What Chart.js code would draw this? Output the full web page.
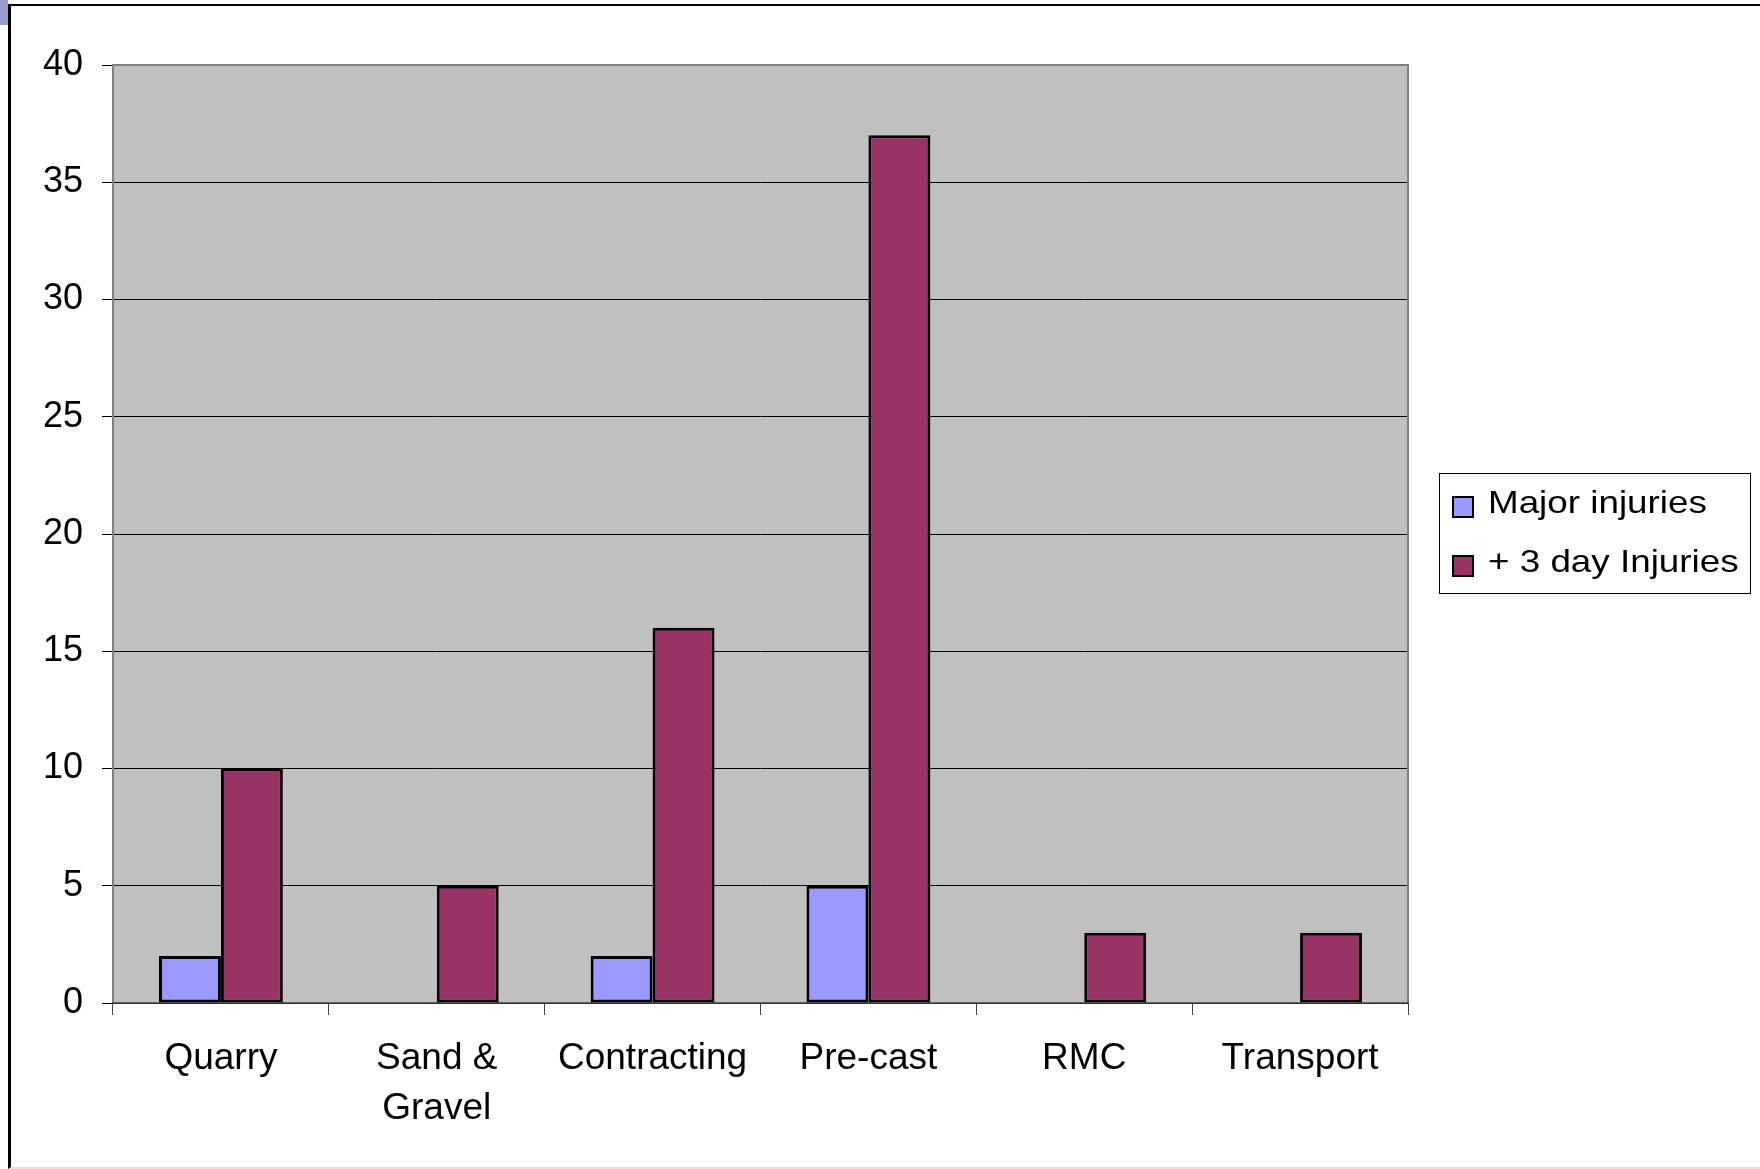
<!DOCTYPE html>
<html lang="en">
<head>
    <meta charset="UTF-8">
    <script src="https://cdn.jsdelivr.net/npm/chart.js"></script>
    <title>Injuries by sector</title>
    <style>
        body { margin: 0; background: #fff; }
        #corner { position: absolute; left: 0; top: 0; width: 8px; height: 25px; background: #9c9cd4; }
        #frame { position: absolute; left: 8px; top: 4px; width: 1752px; height: 1165px; box-sizing: border-box;
                 border-top: 2px solid #000; border-left: 3px solid #000; border-bottom: 2px solid #e2e2e2; }
        #myChart { position: absolute; left: 0; top: 0; }
    </style>
</head>
<body>
<div id="corner"></div>
<div id="frame"></div>
<canvas id="myChart" width="1760" height="1169"></canvas>
<script>
var categories = ['Quarry', ['Sand &', 'Gravel'], 'Contracting', 'Pre-cast', 'RMC', 'Transport'];
var majorInjuries = [2, 0, 2, 5, 0, 0];
var threeDayInjuries = [10, 5, 16, 37, 3, 3];
var seriesNames = ['Major injuries', '+ 3 day Injuries'];
var yMin = 0, yMax = 40, yStep = 5;

var fontFamily = '"Liberation Sans", Arial, sans-serif';

// grey plot area + its frame, like the old Excel default
var plotBackground = {
    id: 'plotBackground',
    beforeDraw: function (chart) {
        var a = chart.chartArea, ctx = chart.ctx;
        ctx.save();
        ctx.fillStyle = '#c0c0c0';
        ctx.fillRect(a.left, a.top, a.right - a.left, a.bottom - a.top);
        ctx.restore();
    },
    beforeDatasetsDraw: function (chart) {
        var a = chart.chartArea, ctx = chart.ctx;
        ctx.save();
        ctx.strokeStyle = '#808080';
        ctx.lineWidth = 2;
        ctx.beginPath();
        ctx.moveTo(a.left, a.bottom);
        ctx.lineTo(a.left, a.top);
        ctx.lineTo(a.right, a.top);
        ctx.lineTo(a.right, a.bottom);
        ctx.stroke();
        ctx.strokeStyle = '#444';
        ctx.lineWidth = 1.5;
        ctx.beginPath();
        ctx.moveTo(a.left - 1, a.bottom);
        ctx.lineTo(a.right + 1, a.bottom);
        ctx.stroke();
        ctx.restore();
    }
};

// boxed legend to the right of the plot
var boxLegend = {
    id: 'boxLegend',
    afterDraw: function (chart) {
        var ctx = chart.ctx, a = chart.chartArea;
        var x = a.right + 31, y = 473, w = 311, h = 120;
        ctx.save();
        ctx.fillStyle = '#fff';
        ctx.fillRect(x, y, w, h);
        ctx.strokeStyle = '#000';
        ctx.lineWidth = 1;
        ctx.strokeRect(x + 0.5, y + 0.5, w, h);
        chart.data.datasets.forEach(function (ds, i) {
            var cy = y + 34 + i * 59;
            ctx.fillStyle = ds.backgroundColor;
            ctx.fillRect(x + 14, cy - 10, 20, 20);
            ctx.lineWidth = 2;
            ctx.strokeStyle = '#000';
            ctx.strokeRect(x + 14, cy - 10, 20, 20);
            ctx.save();
            ctx.translate(x + 49, cy - 3);
            ctx.scale(1.15, 1);
            ctx.fillStyle = '#000';
            ctx.font = '32px ' + fontFamily;
            ctx.textBaseline = 'middle';
            ctx.fillText(ds.label, 0, 0);
            ctx.restore();
        });
        ctx.restore();
    }
};

function barBorder(ctx) {
    return ctx.raw === 0 ? 0 : 3;
}

var ctx = document.getElementById('myChart').getContext('2d');
var myChart = new Chart(ctx, {
    type: 'bar',
    data: {
        labels: categories,
        datasets: [
            {
                label: seriesNames[0],
                data: majorInjuries,
                backgroundColor: '#9999ff',
                borderColor: '#000',
                borderWidth: barBorder,
                borderSkipped: false
            },
            {
                label: seriesNames[1],
                data: threeDayInjuries,
                backgroundColor: '#993366',
                borderColor: '#000',
                borderWidth: barBorder,
                borderSkipped: false
            }
        ]
    },
    options: {
        responsive: false,
        animation: false,
        categoryPercentage: 0.574,
        barPercentage: 1.0,
        layout: { padding: { top: 65, right: 352, left: 0, bottom: 0 } },
        plugins: {
            legend: { display: false },
            tooltip: { enabled: false }
        },
        scales: {
            x: {
                afterFit: function (scale) { scale.height = 166; },
                grid: {
                    offset: true,
                    drawOnChartArea: false,
                    drawTicks: true,
                    tickLength: 12,
                    color: '#444'
                },
                border: { display: false },
                ticks: {
                    color: '#000',
                    padding: 19,
                    maxRotation: 0,
                    autoSkip: false,
                    font: { family: fontFamily, size: 37, lineHeight: 50 / 37 }
                }
            },
            y: {
                min: yMin,
                max: yMax,
                afterFit: function (scale) { scale.width = 113; },
                grid: {
                    color: '#000',
                    lineWidth: 1,
                    tickLength: 11,
                    tickColor: '#000'
                },
                border: { display: false },
                ticks: {
                    stepSize: yStep,
                    color: '#000',
                    padding: 19,
                    font: { family: fontFamily, size: 36 }
                }
            }
        }
    },
    plugins: [plotBackground, boxLegend]
});
</script>
</body>
</html>
